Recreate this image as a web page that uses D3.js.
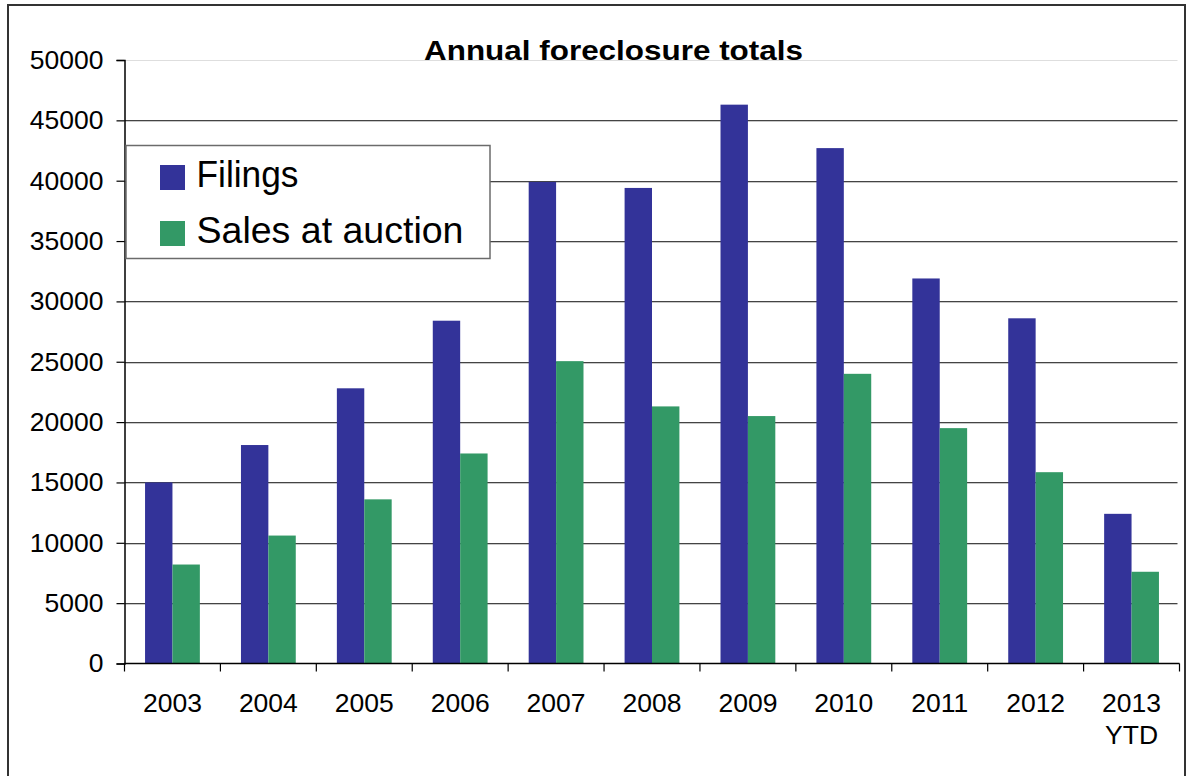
<!DOCTYPE html>
<html>
<head>
<meta charset="utf-8">
<script src="https://cdn.jsdelivr.net/npm/d3@7"></script>
<style>
  html, body { margin: 0; padding: 0; background: #fff; }
  svg { display: block; font-family: "Liberation Sans", Arial, sans-serif; }
</style>
</head>
<body>
<svg id="chart" width="1188" height="776"></svg>
<script>
// ---- Data ----
const categories = ["2003", "2004", "2005", "2006", "2007", "2008", "2009", "2010", "2011", "2012", "2013 YTD"];
const seriesNames = ["Filings", "Sales at auction"];
const filings = [15000, 18100, 22800, 28400, 39900, 39400, 46300, 42700, 31900, 28600, 12400];
const sales   = [8200, 10600, 13600, 17400, 25050, 21300, 20500, 24000, 19500, 15850, 7600];
const yTicks = [0, 5000, 10000, 15000, 20000, 25000, 30000, 35000, 40000, 45000, 50000];
const title = "Annual foreclosure totals";
const colors = ["#333399", "#339966"];

// ---- Layout ----
const svg = d3.select("#chart");
const plot = { left: 124.5, right: 1179.5, top: 60, bottom: 663.5 };

// outer border
svg.append("rect")
  .attr("x", 8).attr("y", 5).attr("width", 1177).attr("height", 790)
  .attr("fill", "#fff").attr("stroke", "#333").attr("stroke-width", 2);

const y = d3.scaleLinear().domain([0, 50000]).range([plot.bottom, plot.top]);
const x0 = d3.scaleBand().domain(categories).range([plot.left, plot.right]).padding(0);
const x1 = d3.scaleBand().domain(seriesNames).range([0, x0.bandwidth()])
  .paddingInner(0).paddingOuter(0.75);

// gridlines
const grid = svg.append("g");
yTicks.filter(t => t > 0).forEach(t => {
  const yy = Math.round(y(t)) + 0.5;
  if (t === 50000) {
    grid.append("line").attr("x1", plot.left).attr("x2", plot.right - 2)
      .attr("y1", yy).attr("y2", yy).attr("stroke", "#dedede").attr("stroke-width", 1);
  } else {
    grid.append("line").attr("x1", plot.left).attr("x2", plot.right - 2)
      .attr("y1", yy).attr("y2", yy).attr("stroke", "#444").attr("stroke-width", 1);
    grid.append("line").attr("x1", plot.left).attr("x2", plot.right - 2)
      .attr("y1", yy + 1).attr("y2", yy + 1).attr("stroke", "#c8c8c8").attr("stroke-width", 1);
  }
});

// bars
const dataBy = { "Filings": filings, "Sales at auction": sales };
const g = svg.append("g");
seriesNames.forEach((s, si) => {
  g.selectAll(null).data(categories).enter().append("rect")
    .attr("x", c => x0(c) + x1(s))
    .attr("width", x1.bandwidth())
    .attr("y", (c, i) => y(dataBy[s][i]))
    .attr("height", (c, i) => y(0) - y(dataBy[s][i]))
    .attr("fill", colors[si]);
});

// y axis
const yAxis = d3.axisLeft(y).tickValues(yTicks).tickSize(8).tickPadding(13)
  .tickFormat(d3.format("d"));
const ya = svg.append("g").attr("transform", `translate(${plot.left},0)`).call(yAxis);
ya.select(".domain").attr("stroke", "#000").attr("stroke-width", 1.5);
ya.selectAll(".tick line").attr("stroke", "#000").attr("stroke-width", 1.2);
ya.selectAll(".tick text").attr("font-size", 26.5).attr("fill", "#000")
  .attr("font-family", "'Liberation Sans', Arial, sans-serif");

// x axis (tick marks at category boundaries)
const xa = svg.append("g");
xa.append("line").attr("x1", plot.left).attr("x2", plot.right)
  .attr("y1", plot.bottom).attr("y2", plot.bottom).attr("stroke", "#000").attr("stroke-width", 1.5);
const bounds = categories.map(c => x0(c)).concat([x0(categories[categories.length - 1]) + x0.bandwidth()]);
xa.selectAll(null).data(bounds).enter().append("line")
  .attr("x1", d => d).attr("x2", d => d)
  .attr("y1", plot.bottom).attr("y2", plot.bottom + 8)
  .attr("stroke", "#000").attr("stroke-width", 1.2);
const xl = xa.selectAll(null).data(categories).enter().append("text")
  .attr("x", c => x0(c) + x0.bandwidth() / 2)
  .attr("y", 712)
  .attr("text-anchor", "middle").attr("font-size", 26.5).attr("fill", "#000");
xl.each(function(c) {
  const parts = c.split(" ");
  const t = d3.select(this);
  parts.forEach((p, i) => {
    t.append("tspan").attr("x", x0(c) + x0.bandwidth() / 2).attr("dy", i === 0 ? 0 : 31.5).text(p);
  });
});

// title
svg.append("text").attr("x", 424).attr("y", 59.5)
  .attr("font-size", 28.5).attr("font-weight", "bold").attr("fill", "#000")
  .attr("textLength", 379).attr("lengthAdjust", "spacingAndGlyphs")
  .text(title);

// legend
const legendWidths = [102, 267];
const lg = svg.append("g");
lg.append("rect").attr("x", 126).attr("y", 145.5).attr("width", 364).attr("height", 113)
  .attr("fill", "#fff").attr("stroke", "#6b6b6b").attr("stroke-width", 1.5);
seriesNames.forEach((s, i) => {
  const yy = 165 + i * 56;
  lg.append("rect").attr("x", 160).attr("y", yy).attr("width", 25).attr("height", 25).attr("fill", colors[i]);
  lg.append("text").attr("x", 196.5).attr("y", yy + 22).attr("font-size", 36.5).attr("fill", "#000")
    .attr("textLength", legendWidths[i]).attr("lengthAdjust", "spacingAndGlyphs")
    .text(s);
});
</script>
</body>
</html>
